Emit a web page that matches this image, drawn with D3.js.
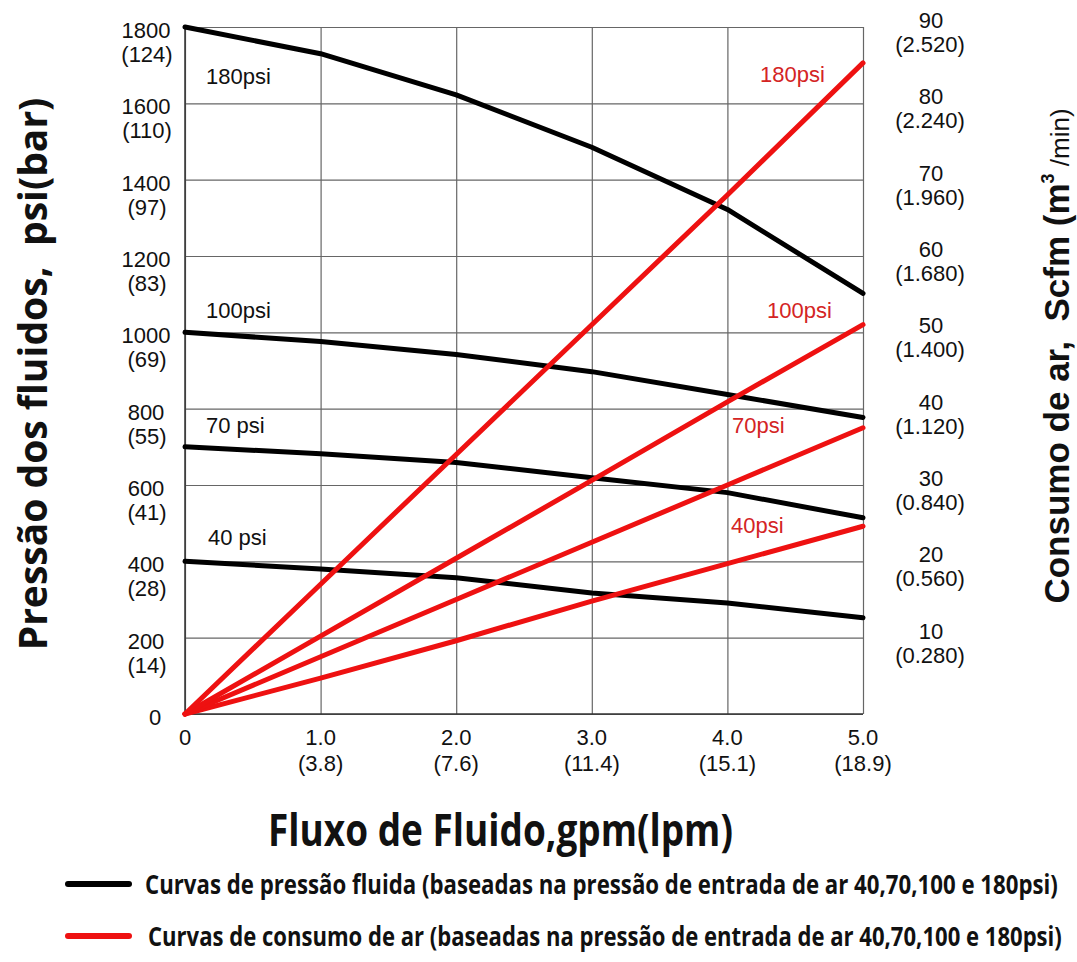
<!DOCTYPE html>
<html>
<head>
<meta charset="utf-8">
<script src="https://cdn.jsdelivr.net/npm/d3@7"></script>
<style>
  body { margin: 0; background: #fff; }
  svg { display: block; }
</style>
</head>
<body>
<div id="graphArea"></div>
<script>
// flow (gpm) at each vertical grid line, and lpm below
var gpm = [0, 1, 2, 3, 4, 5];
var gpmLabels = ["0", "1.0", "2.0", "3.0", "4.0", "5.0"];
var lpmLabels = ["", "(3.8)", "(7.6)", "(11.4)", "(15.1)", "(18.9)"];

// left axis psi(bar)
var psiTicks = [0, 200, 400, 600, 800, 1000, 1200, 1400, 1600, 1800];
var barLabels = ["", "(14)", "(28)", "(41)", "(55)", "(69)", "(83)", "(97)", "(110)", "(124)"];

// right axis scfm (m3/min)
var scfmTicks = [10, 20, 30, 40, 50, 60, 70, 80, 90];
var m3Labels = ["(0.280)", "(0.560)", "(0.840)", "(1.120)", "(1.400)", "(1.680)", "(1.960)", "(2.240)", "(2.520)"];

// fluid pressure curves, psi at each gpm
var pressure40 = [400, 380, 357, 317, 291, 252];
var pressure70 = [700, 682, 659, 619, 580, 514];
var pressure100 = [1000, 976, 942, 897, 837, 777];
var pressure180 = [1800, 1730, 1622, 1485, 1322, 1102];

// air consumption curves, scfm at each gpm
var air40 = [0, 4.7, 9.6, 14.8, 19.7, 24.6];
var air70 = [0, 7.5, 15, 22.5, 30, 37.5];
var air100 = [0, 10.2, 20.4, 30.6, 40.9, 51];
var air180 = [0, 17, 34, 51, 68, 85.3];

var width = 1077, height = 962;
var svg = d3.select("#graphArea").append("svg")
  .attr("width", width)
  .attr("height", height);

var x = d3.scaleLinear().domain([0, 5]).range([185, 863]);
var y = d3.scaleLinear().domain([0, 1800]).range([714, 27]);
var y2 = d3.scaleLinear().domain([0, 90]).range([714, 27]);

var tickFont = "'Liberation Sans', Arial, sans-serif";

// squeeze a text horizontally so it spans len px starting at x0
function fitWidth(sel, x0, len) {
  sel.each(function() {
    var w = this.getComputedTextLength();
    var s = len / w;
    d3.select(this)
      .attr("x", 0)
      .attr("transform", "translate(" + x0 + "," + d3.select(this).attr("data-y") + ") scale(" + s + ",1)")
      .attr("y", 0);
  });
}

// grid
svg.append("g")
  .attr("transform", "translate(0," + 714 + ")")
  .call(d3.axisBottom(x).tickValues(gpm).tickSize(-687).tickFormat(""))
  .call(function(g) {
    g.select(".domain").remove();
    g.selectAll("line").attr("stroke", "#666").attr("stroke-width", 1.2);
  });
svg.append("g")
  .attr("transform", "translate(" + 185 + ",0)")
  .call(d3.axisLeft(y).tickValues(psiTicks).tickSize(-678).tickFormat(""))
  .call(function(g) {
    g.select(".domain").remove();
    g.selectAll("line").attr("stroke", "#666").attr("stroke-width", 1.2);
  });
svg.append("line")
  .attr("x1", 185).attr("x2", 863).attr("y1", 714).attr("y2", 714)
  .attr("stroke", "#333").attr("stroke-width", 1.5);
svg.append("line")
  .attr("x1", 185).attr("x2", 185).attr("y1", 27).attr("y2", 714)
  .attr("stroke", "#333").attr("stroke-width", 1.5);

// left tick labels
var leftLab = svg.append("g").selectAll("text")
  .data(psiTicks)
  .enter().append("text")
  .attr("text-anchor", "middle")
  .style("font-family", tickFont)
  .style("font-size", "22px")
  .attr("fill", "#111");
leftLab.append("tspan")
  .attr("x", function(d) { return d == 0 ? 155 : 146; })
  .attr("y", function(d) { return y(d) + 11; })
  .text(function(d) { return d; });
leftLab.append("tspan")
  .attr("x", 147)
  .attr("y", function(d) { return y(d) + 35; })
  .text(function(d, i) { return barLabels[i]; });

// right tick labels
var rightLab = svg.append("g").selectAll("text")
  .data(scfmTicks)
  .enter().append("text")
  .attr("text-anchor", "middle")
  .style("font-family", tickFont)
  .style("font-size", "22px")
  .attr("fill", "#111");
rightLab.append("tspan")
  .attr("x", 931)
  .attr("y", function(d) { return y2(d) + 1; })
  .text(function(d) { return d; });
rightLab.append("tspan")
  .attr("x", 930)
  .attr("y", function(d) { return y2(d) + 25; })
  .text(function(d, i) { return m3Labels[i]; });

// bottom tick labels
var botLab = svg.append("g").selectAll("text")
  .data(gpm)
  .enter().append("text")
  .attr("text-anchor", "middle")
  .style("font-family", tickFont)
  .style("font-size", "22px")
  .attr("fill", "#111");
botLab.append("tspan")
  .attr("x", function(d) { return x(d); })
  .attr("y", 745)
  .text(function(d, i) { return gpmLabels[i]; });
botLab.append("tspan")
  .attr("x", function(d) { return x(d); })
  .attr("y", 771)
  .text(function(d, i) { return lpmLabels[i]; });

// curves
var linePsi = d3.line()
  .x(function(d, i) { return x(gpm[i]); })
  .y(function(d) { return y(d); });
var lineAir = d3.line()
  .x(function(d, i) { return x(gpm[i]); })
  .y(function(d) { return y2(d); });

var pressures = [pressure40, pressure70, pressure100, pressure180];
var airs = [air40, air70, air100, air180];

svg.append("g").selectAll("path")
  .data(pressures)
  .enter().append("path")
  .attr("d", linePsi)
  .attr("fill", "none")
  .attr("stroke", "#000")
  .attr("stroke-width", 5)
  .attr("stroke-linecap", "round")
  .attr("stroke-linejoin", "round");

svg.append("g").selectAll("path")
  .data(airs)
  .enter().append("path")
  .attr("d", lineAir)
  .attr("fill", "none")
  .attr("stroke", "#ee1111")
  .attr("stroke-width", 5)
  .attr("stroke-linecap", "round")
  .attr("stroke-linejoin", "round");

// curve labels
var blackLabels = [
  { t: "40 psi", x: 208, y: 545 },
  { t: "70 psi", x: 206, y: 433 },
  { t: "100psi", x: 206, y: 318 },
  { t: "180psi", x: 206, y: 84 }
];
var redLabels = [
  { t: "40psi", x: 731, y: 533 },
  { t: "70psi", x: 732, y: 433 },
  { t: "100psi", x: 767, y: 318 },
  { t: "180psi", x: 760, y: 82 }
];
svg.append("g").selectAll("text")
  .data(blackLabels)
  .enter().append("text")
  .attr("x", function(d) { return d.x; })
  .attr("y", function(d) { return d.y; })
  .style("font-family", tickFont)
  .style("font-size", "22px")
  .attr("fill", "#111")
  .text(function(d) { return d.t; });
svg.append("g").selectAll("text")
  .data(redLabels)
  .enter().append("text")
  .attr("x", function(d) { return d.x; })
  .attr("y", function(d) { return d.y; })
  .style("font-family", tickFont)
  .style("font-size", "22px")
  .attr("fill", "#d42424")
  .text(function(d) { return d.t; });

// axis titles
svg.append("text")
  .attr("transform", "translate(47,374) rotate(-90)")
  .attr("text-anchor", "middle")
  .style("font-family", "'Open Sans', sans-serif")
  .style("font-weight", "bold")
  .style("font-size", "39px")
  .style("white-space", "pre")
  .attr("fill", "#111")
  .text("Pressão dos fluidos,\u00a0\u00a0psi(bar)");

var rt = svg.append("text")
  .attr("transform", "translate(1069,356) rotate(-90)")
  .attr("text-anchor", "middle")
  .style("font-family", tickFont)
  .style("font-weight", "bold")
  .style("font-size", "35px")
  .style("white-space", "pre")
  .attr("fill", "#111");
rt.append("tspan").text("Consumo de ar,\u00a0\u00a0Scfm (m");
rt.append("tspan").attr("dy", -15).style("font-size", "18px").text("3");
rt.append("tspan").attr("dy", 15).style("font-weight", "normal").style("font-size", "26px").text("\u00a0/min)");

svg.append("text")
  .attr("data-y", 846)
  .style("font-family", "'Open Sans', sans-serif")
  .style("font-weight", "bold")
  .style("font-size", "44px")
  .attr("fill", "#111")
  .text("Fluxo de Fluido,gpm(lpm)")
  .call(fitWidth, 268, 465);

// legend
var legend = [
  { color: "#000", y: 884, tx: 145, len: 913, t: "Curvas de pressão fluida (baseadas na pressão de entrada de ar 40,70,100 e 180psi)" },
  { color: "#ee1111", y: 936, tx: 148, len: 914, t: "Curvas de consumo de ar (baseadas na pressão de entrada de ar 40,70,100 e 180psi)" }
];
var lg = svg.append("g").selectAll("g")
  .data(legend)
  .enter().append("g");
lg.append("line")
  .attr("x1", 68).attr("x2", 129)
  .attr("y1", function(d) { return d.y; })
  .attr("y2", function(d) { return d.y; })
  .attr("stroke", function(d) { return d.color; })
  .attr("stroke-width", 6)
  .attr("stroke-linecap", "round");
lg.append("text")
  .attr("data-y", function(d) { return d.y + 10; })
  .style("font-family", "'Open Sans', sans-serif")
  .style("font-weight", "bold")
  .style("font-size", "27px")
  .attr("fill", "#111")
  .text(function(d) { return d.t; })
  .each(function(d) { d3.select(this).call(fitWidth, d.tx, d.len); });
</script>
</body>
</html>
